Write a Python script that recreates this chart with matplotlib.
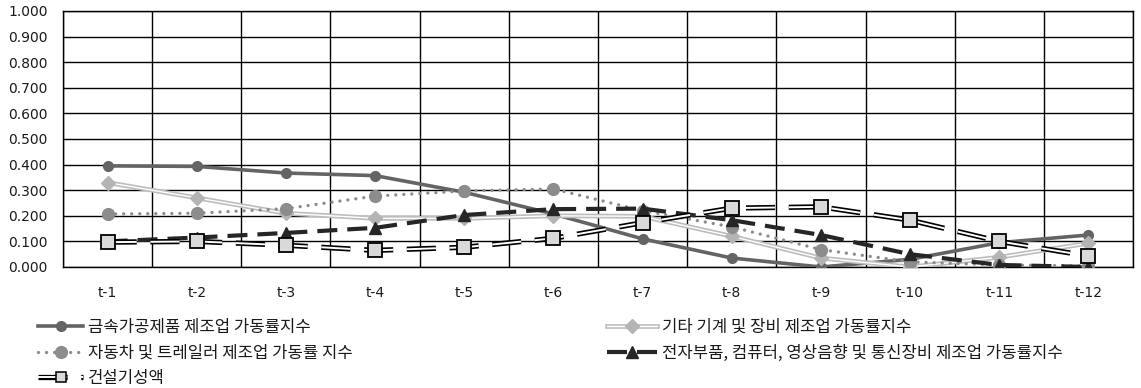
import matplotlib
matplotlib.use("Agg")
import matplotlib.pyplot as plt
import matplotlib.patheffects as pe
from matplotlib.lines import Line2D
from matplotlib.ticker import FixedLocator, FuncFormatter

plt.rcParams['font.family'] = ['Noto Sans CJK KR', 'DejaVu Sans']

periods = ["t-1", "t-2", "t-3", "t-4", "t-5", "t-6", "t-7", "t-8", "t-9", "t-10", "t-11", "t-12"]

metal = [0.395, 0.393, 0.367, 0.357, 0.292, 0.207, 0.110, 0.035, 0.000, 0.030, 0.095, 0.125]
machinery = [0.330, 0.270, 0.210, 0.190, 0.190, 0.200, 0.198, 0.120, 0.035, 0.000, 0.038, 0.093]
auto = [0.207, 0.210, 0.228, 0.277, 0.297, 0.305, 0.220, 0.157, 0.068, 0.020, 0.008, 0.004]
electronics = [0.100, 0.115, 0.133, 0.153, 0.203, 0.226, 0.228, 0.183, 0.125, 0.050, 0.008, 0.000]
construction = [0.097, 0.100, 0.085, 0.065, 0.077, 0.112, 0.173, 0.230, 0.235, 0.183, 0.100, 0.043]

labels = [
    "금속가공제품 제조업 가동률지수",
    "기타 기계 및 장비 제조업 가동률지수",
    "자동차 및 트레일러 제조업 가동률 지수",
    "전자부품, 컴퓨터, 영상음향 및 통신장비 제조업 가동률지수",
    "건설기성액",
]

fig = plt.figure(figsize=(11.41, 3.88), dpi=100)
ax = fig.add_axes([63 / 1141, 1 - 267 / 388, 1070 / 1141, 256 / 388])
x = list(range(len(periods)))

# metal processing: solid dark grey with circles
h_metal, = ax.plot(x, metal, color="#646464", lw=2.6, marker="o", ms=7,
                   mfc="#646464", mec="#646464", zorder=3)

# other machinery: light grey double line with diamonds
l_mach, = ax.plot(x, machinery, color="white", lw=1.0, zorder=3,
                  path_effects=[pe.Stroke(linewidth=3.4, foreground="#bdbdbd"), pe.Normal()])
m_mach, = ax.plot(x, machinery, ls="none", marker="D", ms=7.5,
                  mfc="#b4b4b4", mec="#b4b4b4", zorder=3.1)

# automobiles: dotted grey with circles
h_auto, = ax.plot(x, auto, color="#8c8c8c", lw=2.4, ls=(0, (0.01, 2.4)),
                  dash_capstyle="round", marker="o", ms=8.5,
                  mfc="#8c8c8c", mec="#8c8c8c", zorder=3.2)

# electronics: black dashed with triangles
h_elec, = ax.plot(x, electronics, color="#262626", lw=3.0, ls=(0, (4.8, 2.4)),
                  marker="^", ms=8.5, mfc="#262626", mec="#262626", zorder=3.3)

# construction: white outlined dashes with square markers
l_cons, = ax.plot(x, construction, color="white", lw=1.4, ls=(0, (15, 7)),
                  zorder=3.4,
                  path_effects=[pe.Stroke(linewidth=3.8, foreground="black"), pe.Normal()])
m_cons, = ax.plot(x, construction, ls="none", marker="s", ms=10,
                  mfc="#d9d9d9", mec="black", mew=1.3, zorder=3.5)
key_cons = Line2D([], [], ls="none", marker="s", ms=7.5,
                  mfc="#d9d9d9", mec="black", mew=1.1)

ax.set_xlim(-0.5, len(periods) - 0.5)
ax.set_ylim(0, 1.0)
ax.set_xticks(x)
ax.set_xticklabels(periods, fontsize=10, family="DejaVu Sans", color="#1a1a1a")
ax.xaxis.set_minor_locator(FixedLocator([i + 0.5 for i in range(-1, len(periods))]))
ax.set_yticks([i / 10 for i in range(11)])
ax.yaxis.set_major_formatter(FuncFormatter(lambda v, p: f"{v:.3f}"))
for t in ax.get_yticklabels():
    t.set_fontsize(10)
    t.set_family("DejaVu Sans")
    t.set_color("#1a1a1a")

ax.tick_params(axis="both", which="both", length=0)
ax.tick_params(axis="x", pad=14)
ax.tick_params(axis="y", pad=11)
ax.grid(True, axis="y", which="major", color="black", lw=1.0)
ax.grid(True, axis="x", which="minor", color="black", lw=1.0)
ax.set_axisbelow(True)
for s in ax.spines.values():
    s.set_color("black")
    s.set_linewidth(1.0)

common = dict(frameon=False, fontsize=12, handletextpad=0.3,
              labelspacing=0.5, numpoints=1, borderaxespad=0, borderpad=0)
leg1 = fig.legend([h_metal, h_auto, (l_cons, key_cons)], [labels[0], labels[2], labels[4]],
                  loc="upper left", bbox_to_anchor=(38 / 1141, 1 - 319 / 388),
                  handlelength=2.7, **common)
leg2 = fig.legend([(l_mach, m_mach), h_elec], [labels[1], labels[3]],
                  loc="upper left", bbox_to_anchor=(607 / 1141, 1 - 319 / 388),
                  handlelength=3.0, **common)
for t in leg1.get_texts() + leg2.get_texts():
    t.set_color("#1a1a1a")

fig.savefig("out.png", dpi=100)
